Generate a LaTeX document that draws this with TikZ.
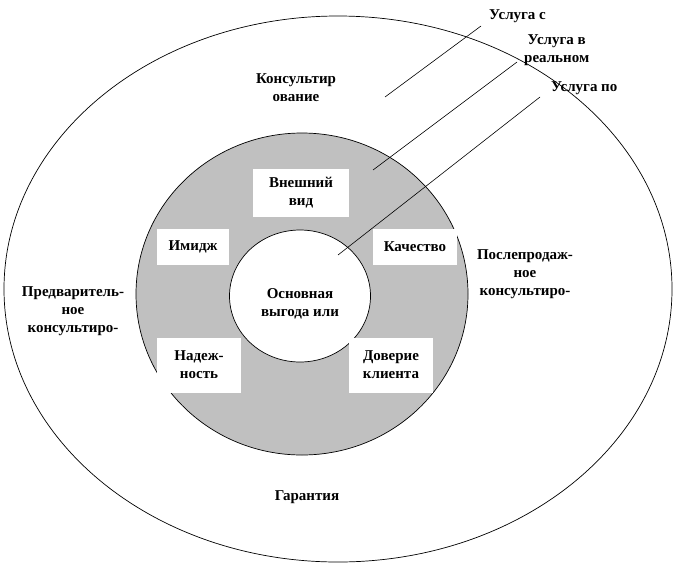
\documentclass[tikz,border=0pt]{standalone}
\usepackage{fontspec}
\setmainfont{Liberation Serif}
\usetikzlibrary{shapes.geometric}
\definecolor{ringgray}{RGB}{192,192,192}
\begin{document}
\begin{tikzpicture}[x=1pt,y=-1pt,
  ring/.style={ellipse,draw=black,line width=0.7pt,inner sep=0pt},
  lbl/.style={font=\fontsize{15}{18}\selectfont\bfseries,align=center,inner sep=0pt},
  wbox/.style={fill=white,font=\fontsize{15}{18}\selectfont\bfseries,align=center,inner sep=0pt},
  ptr/.style={line width=0.6pt}]
\useasboundingbox (0,0) rectangle (687,579);
\node[ring,fill=white,minimum width=668pt,minimum height=546pt] (outer) at (338,289) {};
\node[ring,fill=ringgray,minimum width=332pt,minimum height=322pt] (mid) at (302,294) {};
\node[ring,fill=white,minimum width=141pt,minimum height=132pt] (inner) at (300,296) {};
% boxes
\node[wbox,minimum width=96pt,minimum height=48pt] (vid) at (301,193) {Внешний\\вид};
\node[wbox,minimum width=72pt,minimum height=36pt] (imidzh) at (193,247) {Имидж};
\node[wbox,minimum width=84pt,minimum height=36pt] (kach) at (415,247) {Качество};
\node[wbox,minimum width=84pt,minimum height=55pt] (nadezh) at (199,365) {Надеж-\\ность};
\node[wbox,minimum width=84pt,minimum height=55pt] (dover) at (391,365) {Доверие\\клиента};
\node[lbl] (osn) at (300,304) {Основная\\выгода или};
% outer labels
\node[lbl] (kons) at (296,88) {Консультир\\ование};
\node[lbl] (pred) at (73,311) {Предваритель-\\ное\\консультиро-};
\node[lbl] (posle) at (525,274) {Послепродаж-\\ное\\консультиро-};
\node[lbl] (gar) at (307,497) {Гарантия};
\node[lbl,anchor=west] (us1) at (489,16) {Услуга с};
\node[lbl,anchor=west] (us2) at (524,50) {Услуга в\\реальном};
\node[lbl,anchor=west] (us3) at (551,88) {Услуга по};
% pointers
\coordinate (p1) at (385,97);
\coordinate (p1e) at (481,26);
\coordinate (p2) at (373,170);
\coordinate (p2e) at (517,62);
\coordinate (p3) at (338,255);
\coordinate (p3e) at (540,97);
\draw[ptr] (p1) -- (p1e);
\draw[ptr] (p2) -- (p2e);
\draw[ptr] (p3) -- (p3e);
\end{tikzpicture}
\end{document}
